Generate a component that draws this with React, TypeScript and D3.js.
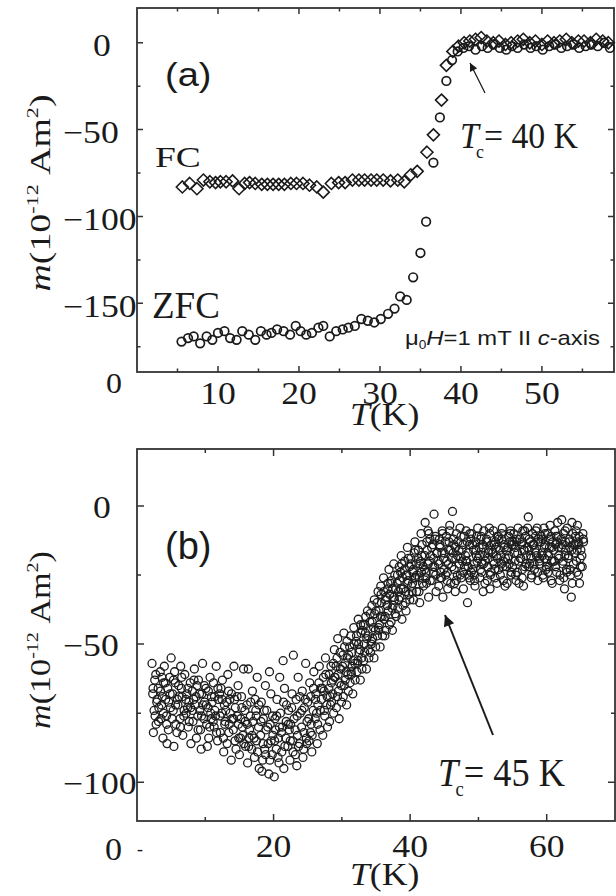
import React from 'react';
import * as d3 from 'd3';

// ---------- Panel (a) data ----------
const fcT = [5.6,6.5,7.4,8.2,9.0,9.7,10.3,11.0,11.8,12.6,13.3,13.9,14.6,15.4,16.1,16.8,17.5,18.2,19.0,19.7,20.5,21.3,22.2,23.0,24.0,24.9,25.7,26.6,27.4,28.1,28.9,29.6,30.4,31.3,32.2,33.0,33.8,34.6,35.8,36.6,37.6,38.2,39.0,39.7,40.4,41.1,41.8,42.5,43.2,44.0,44.7,45.5,46.2,47.0,47.7,48.5,49.2,50.0,50.7,51.5,52.2,53.0,53.7,54.5,55.2,56.0,56.7,57.5,58.2];
const fcM = [-83,-81,-84,-79,-80,-80.5,-80,-80,-79.5,-84,-81,-80.5,-81,-81.5,-81.5,-81.5,-81.5,-81.5,-81,-81,-81,-82,-83,-86,-81,-80.5,-80.5,-79,-79,-79,-79,-79,-79,-79.5,-79,-80,-76,-74,-63,-53,-33,-13,-5,-2,0,1,2,3,1,0,1,-1,0,1,2,0,1,-1,1,0,1,2,0,1,1,0,2,1,0];
const zfcT = [5.5,6.3,7.0,7.8,8.6,9.3,10.0,10.8,11.5,12.3,13.0,13.8,14.6,15.3,16.0,16.6,17.3,18.1,18.9,19.6,20.2,20.9,21.6,22.4,23.0,23.8,24.6,25.4,26.1,26.9,27.7,28.5,29.3,30.1,31.0,31.8,32.5,33.3,34.1,35.0,35.7,36.6,37.4,38.2,38.9,39.6,40.3,41.0,41.8,42.6,43.3,44.0,44.8,45.6,46.3,47.0,47.8,48.6,49.3,50.1,50.9,51.6,52.4,53.1,53.9,54.6,55.4,56.1,56.9,57.7,58.4];
const zfcM = [-172,-170,-169,-173,-169,-171,-167,-166,-170,-171,-166,-168,-171,-166,-168,-167,-165,-166,-168,-163,-166,-168,-167,-164,-163,-169,-166,-165,-164,-163,-159,-160,-161,-159,-156,-153,-146,-148,-135,-121,-103,-69,-43,-22,-10,-5,-3,-2,-4,-2,-3,-1,-3,-4,-2,-3,-1,-3,-2,-4,-2,-1,-3,-2,-1,-3,-2,-1,-2,0,-3];

const aXTicks = [10, 20, 30, 40, 50];
const aYTicks = [0, -50, -100, -150];

// ---------- Panel (b) data : [T, m] ----------
const bPoints: [number, number][] = [
[2.2,-57],[2.3,-68],[2.5,-74],[2.6,-63],[2.8,-79],[2.9,-71],[2.4,-82],
[3.1,-66],[3.2,-73],[3.4,-60],[3.5,-77],[3.7,-69],[3.8,-84],[3.9,-64],[3.6,-72],
[4.0,-58],[4.2,-70],[4.3,-76],[4.5,-66],[4.6,-81],[4.8,-62],[4.9,-73],[4.4,-86],
[5.0,-55],[5.2,-68],[5.3,-74],[5.4,-87],[5.6,-64],[5.7,-79],[5.9,-70],[5.5,-60],
[6.0,-72],[6.1,-65],[6.3,-77],[6.4,-58],[6.6,-69],[6.7,-83],[6.9,-74],[6.5,-66],
[7.0,-61],[7.2,-75],[7.3,-68],[7.5,-80],[7.6,-71],[7.8,-64],[7.9,-86],[7.4,-73],
[8.1,-67],[8.2,-78],[8.4,-59],[8.5,-72],[8.7,-84],[8.8,-65],[8.9,-76],[8.3,-70],
[9.0,-63],[9.2,-74],[9.3,-81],[9.5,-68],[9.6,-57],[9.8,-77],[9.9,-71],[9.4,-88],
[10.1,-66],[10.2,-79],[10.4,-73],[10.5,-84],[10.7,-62],[10.8,-75],[10.9,-69],[10.3,-87],
[11.0,-71],[11.2,-64],[11.3,-80],[11.5,-76],[11.6,-58],[11.8,-85],[11.9,-70],[11.4,-74],
[12.1,-68],[12.2,-82],[12.4,-75],[12.5,-63],[12.7,-89],[12.8,-72],[12.9,-78],[12.3,-66],
[13.0,-74],[13.2,-86],[13.3,-61],[13.5,-79],[13.6,-70],[13.8,-92],[13.9,-77],[13.4,-67],
[14.1,-81],[14.2,-58],[14.4,-73],[14.5,-88],[14.7,-76],[14.8,-65],[14.9,-84],[14.3,-70],
[15.0,-90],[15.2,-77],[15.3,-69],[15.5,-83],[15.6,-59],[15.8,-74],[15.9,-87],[15.4,-80],
[16.1,-72],[16.2,-93],[16.3,-59],[16.5,-81],[16.6,-76],[16.8,-88],[16.9,-67],[16.4,-84],
[17.0,-78],[17.2,-91],[17.3,-70],[17.5,-85],[17.6,-62],[17.8,-80],[17.9,-95],[17.4,-74],
[18.1,-83],[18.2,-71],[18.4,-92],[18.5,-77],[18.7,-88],[18.8,-65],[18.9,-81],[18.3,-96],
[19.0,-74],[19.2,-86],[19.3,-97],[19.5,-79],[19.6,-68],[19.8,-90],[19.9,-83],[19.4,-60],
[20.1,-98],[20.2,-77],[20.4,-88],[20.5,-70],[20.7,-84],[20.8,-93],[20.9,-62],[20.3,-81],
[21.0,-75],[21.2,-89],[21.3,-80],[21.5,-95],[21.6,-66],[21.8,-84],[21.9,-72],[21.4,-56],
[22.1,-87],[22.2,-74],[22.4,-92],[22.5,-79],[22.7,-68],[22.8,-85],[22.9,-54],[22.3,-81],
[23.0,-77],[23.2,-90],[23.3,-70],[23.5,-83],[23.6,-62],[23.8,-86],[23.9,-75],[23.4,-94],
[24.1,-80],[24.2,-67],[24.4,-88],[24.5,-73],[24.7,-57],[24.8,-84],[24.9,-78],[24.3,-91],
[25.0,-71],[25.2,-85],[25.3,-64],[25.5,-79],[25.6,-89],[25.8,-74],[25.9,-60],[25.4,-82],
[26.1,-77],[26.2,-68],[26.4,-86],[26.5,-72],[26.7,-58],[26.8,-81],[26.9,-66],[26.3,-75],
[27.0,-70],[27.2,-83],[27.3,-62],[27.5,-76],[27.6,-55],[27.8,-72],[27.9,-80],[27.4,-67],
[28.1,-66],[28.2,-78],[28.4,-58],[28.5,-71],[28.7,-63],[28.8,-75],[28.9,-52],[28.3,-69],
[29.0,-62],[29.2,-73],[29.3,-55],[29.5,-67],[29.6,-77],[29.8,-59],[29.9,-65],[29.4,-48],
[30.1,-58],[30.2,-69],[30.4,-51],[30.5,-63],[30.7,-72],[30.8,-55],[30.9,-61],[30.3,-46],
[31.0,-54],[31.2,-64],[31.3,-47],[31.5,-58],[31.6,-68],[31.8,-50],[31.9,-57],[31.4,-61],
[32.1,-49],[32.2,-60],[32.4,-41],[32.5,-53],[32.7,-63],[32.8,-46],[32.9,-55],[32.3,-57],
[33.0,-45],[33.2,-56],[33.3,-50],[33.5,-40],[33.6,-59],[33.8,-47],[33.9,-52],[33.4,-43],
[34.1,-42],[34.2,-53],[34.4,-36],[34.5,-48],[34.7,-55],[34.8,-39],[34.9,-45],[34.3,-50],
[35.0,-38],[35.2,-47],[35.3,-31],[35.5,-43],[35.6,-51],[35.8,-35],[35.9,-40],[35.4,-45],[35.7,-29],
[36.1,-26],[36.2,-41],[36.4,-34],[36.5,-45],[36.7,-30],[36.8,-38],[36.9,-23],[36.3,-47],[36.6,-36],
[37.0,-32],[37.2,-42],[37.3,-27],[37.5,-36],[37.6,-21],[37.8,-39],[37.9,-30],[37.4,-45],[37.7,-34],
[38.1,-28],[38.2,-37],[38.4,-22],[38.5,-33],[38.7,-18],[38.8,-41],[38.9,-26],[38.3,-31],[38.6,-24],
[39.0,-30],[39.2,-20],[39.3,-35],[39.5,-25],[39.6,-15],[39.8,-32],[39.9,-22],[39.4,-38],[39.7,-27],
[40.1,-19],[40.2,-29],[40.4,-24],[40.5,-34],[40.7,-13],[40.8,-26],[40.9,-21],[40.3,-31],[40.6,-17],
[41.0,-25],[41.2,-16],[41.3,-31],[41.5,-20],[41.6,-10],[41.8,-28],[41.9,-22],[41.4,-35],[41.7,-18],
[42.1,-23],[42.2,-6],[42.4,-28],[42.5,-16],[42.7,-33],[42.8,-20],[42.9,-12],[42.3,-26],[42.6,-9],
[43.0,-18],[43.2,-27],[43.3,-14],[43.5,-3],[43.6,-22],[43.8,-31],[43.9,-17],[43.4,-24],[43.7,-11],
[44.1,-20],[44.2,-29],[44.4,-15],[44.5,-24],[44.7,-9],[44.8,-33],[44.9,-19],[44.3,-12],[44.6,-26],
[45.0,-17],[45.2,-25],[45.3,-11],[45.5,-30],[45.6,-21],[45.8,-7],[45.9,-16],[45.4,-27],[45.7,-13],
[46.1,-22],[46.2,-2],[46.4,-14],[46.5,-28],[46.7,-19],[46.8,-10],[46.9,-25],[46.3,-17],[46.6,-31],
[47.0,-13],[47.2,-21],[47.3,-8],[47.5,-26],[47.6,-16],[47.8,-30],[47.9,-11],[47.4,-19],[47.7,-24],
[48.1,-18],[48.2,-9],[48.4,-35],[48.5,-22],[48.7,-14],[48.8,-27],[48.9,-12],[48.3,-20],[48.6,-25],
[49.0,-10],[49.2,-23],[49.3,-16],[49.5,-29],[49.6,-13],[49.8,-20],[49.9,-8],[49.4,-25],[49.7,-18],
[50.1,-15],[50.2,-26],[50.4,-11],[50.5,-21],[50.7,-31],[50.8,-9],[50.9,-18],[50.3,-23],[50.6,-14],
[51.0,-20],[51.2,-12],[51.3,-27],[51.5,-16],[51.6,-8],[51.8,-24],[51.9,-14],[51.4,-19],[51.7,-30],
[52.1,-17],[52.2,-9],[52.4,-23],[52.5,-13],[52.7,-28],[52.8,-19],[52.9,-11],[52.3,-21],[52.6,-15],
[53.0,-12],[53.2,-25],[53.3,-18],[53.5,-8],[53.6,-22],[53.8,-15],[53.9,-29],[53.4,-10],[53.7,-20],
[54.1,-16],[54.2,-28],[54.4,-11],[54.5,-21],[54.7,-9],[54.8,-24],[54.9,-14],[54.3,-19],[54.6,-13],
[55.0,-22],[55.2,-10],[55.3,-17],[55.5,-27],[55.6,-13],[55.8,-8],[55.9,-20],[55.4,-15],[55.7,-24],
[56.1,-12],[56.2,-19],[56.4,-26],[56.5,-9],[56.7,-16],[56.8,-22],[56.9,-11],[56.3,-14],[56.6,-29],
[57.0,-18],[57.2,-8],[57.3,-4],[57.5,-21],[57.6,-13],[57.8,-25],[57.9,-10],[57.4,-16],[57.7,-19],
[58.1,-14],[58.2,-23],[58.4,-9],[58.5,-18],[58.7,-27],[58.8,-12],[58.9,-20],[58.3,-16],[58.6,-8],
[59.0,-21],[59.2,-11],[59.3,-17],[59.5,-26],[59.6,-8],[59.8,-14],[59.9,-23],[59.4,-12],[59.7,-19],
[60.1,-10],[60.2,-24],[60.4,-15],[60.5,-7],[60.7,-20],[60.8,-28],[60.9,-13],[60.3,-18],[60.6,-11],
[61.0,-16],[61.2,-9],[61.3,-22],[61.5,-13],[61.6,-6],[61.8,-19],[61.9,-27],[61.4,-11],[61.7,-15],
[62.1,-12],[62.2,-5],[62.4,-20],[62.5,-26],[62.7,-9],[62.8,-16],[62.9,-23],[62.3,-14],[62.6,-30],
[63.0,-8],[63.2,-18],[63.3,-13],[63.5,-25],[63.6,-33],[63.8,-10],[63.9,-21],[63.4,-15],[63.7,-6],
[64.1,-17],[64.2,-11],[64.4,-24],[64.5,-7],[64.7,-14],[64.8,-28],[64.9,-19],[64.3,-9],[64.6,-13],
[65.0,-16],[65.2,-22],[65.3,-10],[65.4,-13]
];

// second sweep of panel (b), denser core
const bPointsExtra: [number, number][] = [
[2.35,-66],[2.65,-76],[2.75,-61],[2.95,-70],
[3.15,-78],[3.45,-67],[3.65,-62],[3.85,-75],
[4.15,-64],[4.35,-79],[4.65,-71],[4.85,-68],
[5.15,-77],[5.35,-63],[5.65,-72],[5.85,-82],
[6.15,-69],[6.35,-80],[6.55,-62],[6.85,-76],
[7.15,-70],[7.45,-66],[7.65,-78],[7.85,-73],
[8.15,-74],[8.35,-63],[8.65,-69],[8.95,-81],
[9.15,-68],[9.45,-76],[9.65,-72],[9.85,-65],
[10.15,-72],[10.45,-67],[10.65,-80],[10.85,-77],
[11.15,-78],[11.35,-69],[11.65,-82],[11.85,-66],
[12.15,-76],[12.45,-70],[12.65,-84],[12.85,-79],
[13.15,-71],[13.45,-82],[13.65,-75],[13.85,-68],
[14.15,-77],[14.35,-85],[14.65,-69],[14.85,-79],
[15.15,-84],[15.35,-73],[15.65,-86],[15.85,-78],
[16.15,-79],[16.35,-87],[16.65,-71],[16.85,-83],
[17.15,-84],[17.45,-76],[17.65,-89],[17.85,-72],
[18.15,-78],[18.45,-86],[18.65,-74],[18.85,-90],
[19.15,-80],[19.45,-92],[19.65,-85],[19.85,-76],
[20.15,-85],[20.45,-76],[20.65,-91],[20.85,-80],
[21.15,-82],[21.45,-71],[21.65,-87],[21.85,-78],
[22.15,-79],[22.45,-85],[22.65,-73],[22.85,-89],
[23.15,-81],[23.45,-76],[23.65,-87],[23.85,-69],
[24.15,-74],[24.45,-82],[24.65,-70],[24.85,-86],
[25.15,-77],[25.45,-69],[25.65,-83],[25.85,-66],
[26.15,-70],[26.45,-79],[26.65,-64],[26.85,-74],
[27.15,-66],[27.45,-74],[27.65,-61],[27.85,-69],
[28.15,-61],[28.35,-72],[28.45,-64],[28.65,-68],[28.75,-57],[28.95,-62],
[29.15,-58],[29.35,-69],[29.45,-61],[29.65,-64],[29.75,-53],[29.95,-71],
[30.15,-54],[30.35,-65],[30.45,-57],[30.65,-60],[30.75,-49],[30.95,-67],
[31.15,-51],[31.35,-60],[31.45,-53],[31.65,-56],[31.75,-44],[31.95,-63],
[32.15,-47],[32.35,-56],[32.45,-50],[32.65,-52],[32.75,-43],[32.95,-59],
[33.15,-43],[33.35,-53],[33.45,-46],[33.65,-48],[33.75,-38],[33.95,-55],
[34.15,-39],[34.35,-49],[34.45,-42],[34.65,-44],[34.75,-34],[34.95,-51],
[35.15,-35],[35.35,-44],[35.45,-38],[35.65,-40],[35.75,-32],[35.95,-47],
[36.15,-31],[36.35,-40],[36.45,-33],[36.65,-36],[36.75,-28],[36.95,-43],
[37.15,-28],[37.35,-37],[37.45,-30],[37.65,-33],[37.75,-25],[37.95,-40],
[38.15,-25],[38.35,-34],[38.45,-27],[38.65,-30],[38.75,-21],[38.95,-36],
[39.15,-23],[39.35,-31],[39.45,-25],[39.65,-28],[39.75,-19],[39.95,-34],
[40.15,-21],[40.35,-28],[40.45,-23],[40.65,-26],[40.75,-16],[40.95,-31],
[41.15,-19],[41.35,-26],[41.45,-21],[41.65,-24],[41.75,-14],[41.95,-29],
[42.15,-18],[42.35,-24],[42.45,-13],[42.65,-21],[42.75,-10],[42.95,-27],
[43.15,-15],[43.35,-22],[43.45,-19],[43.65,-12],[43.75,-25],[43.95,-17],
[44.15,-21],[44.35,-14],[44.45,-26],[44.65,-17],[44.75,-10],[44.95,-23],
[45.15,-13],[45.35,-20],[45.45,-24],[45.65,-16],[45.75,-9],[45.95,-28],
[46.15,-19],[46.35,-12],[46.45,-23],[46.65,-15],[46.75,-27],[46.95,-18],
[47.15,-16],[47.35,-25],[47.45,-11],[47.65,-20],[47.75,-14],[47.95,-22],
[48.15,-20],[48.35,-13],[48.45,-17],[48.65,-26],[48.75,-10],[48.95,-24],
[49.15,-14],[49.35,-21],[49.45,-27],[49.65,-16],[49.75,-11],[49.95,-19],
[50.15,-18],[50.35,-12],[50.45,-24],[50.65,-15],[50.75,-21],[50.95,-28],
[51.15,-13],[51.35,-22],[51.45,-17],[51.65,-10],[51.75,-25],[51.95,-16],
[52.15,-20],[52.35,-14],[52.45,-26],[52.65,-18],[52.75,-11],[52.95,-23],
[53.15,-16],[53.35,-21],[53.45,-12],[53.65,-27],[53.75,-14],[53.95,-19],
[54.15,-22],[54.35,-15],[54.45,-18],[54.65,-10],[54.75,-25],[54.95,-13],
[55.15,-14],[55.35,-20],[55.45,-25],[55.65,-12],[55.75,-17],[55.95,-28],
[56.15,-19],[56.35,-13],[56.45,-23],[56.65,-16],[56.75,-9],[56.95,-21],
[57.15,-15],[57.35,-22],[57.45,-12],[57.65,-18],[57.75,-26],[57.95,-14],
[58.15,-21],[58.35,-11],[58.45,-17],[58.65,-24],[58.75,-13],[58.95,-19],
[59.15,-13],[59.35,-18],[59.45,-25],[59.65,-15],[59.75,-10],[59.95,-22],
[60.15,-17],[60.35,-22],[60.45,-12],[60.65,-27],[60.75,-15],[60.95,-20],
[61.15,-20],[61.35,-14],[61.45,-24],[61.65,-11],[61.75,-18],[61.95,-25],
[62.15,-15],[62.35,-21],[62.45,-10],[62.65,-18],[62.75,-13],[62.95,-24],
[63.15,-19],[63.35,-12],[63.45,-23],[63.65,-16],[63.75,-28],[63.95,-14],
[64.15,-14],[64.35,-20],[64.45,-16],[64.65,-25],[64.75,-11],[64.95,-22],
[65.15,-18],[65.35,-12]
];

const bXTicks = [20, 40, 60];
const bYTicks = [0, -50, -100];

const SERIF = '"Liberation Serif", "Times New Roman", serif';
const SANS = '"Liberation Sans", Arial, sans-serif';
const INK = '#1a1a1a';
const AXIS = '#333';

function SText({ x, y, sx = 1, size, anchor = 'start', family = SERIF, children }: any) {
  return (
    <g transform={`translate(${x},${y}) scale(${sx},1)`}>
      <text x={0} y={0} fontSize={size} fontFamily={family} textAnchor={anchor} fill={INK}>
        {children}
      </text>
    </g>
  );
}

function Frame({ xs, ys, xMajor, xMinor, yMajor, yMinor, maj, min }: any) {
  const [x0, x1] = xs.range();
  const [y0, y1] = ys.range();
  const segs: string[] = [];
  xMajor.forEach((v: number) => {
    const X = xs(v);
    segs.push(`M${X},${y0}v${-maj}`, `M${X},${y1}v${maj}`);
  });
  xMinor.forEach((v: number) => {
    const X = xs(v);
    segs.push(`M${X},${y0}v${-min}`, `M${X},${y1}v${min}`);
  });
  yMajor.forEach((v: number) => {
    const Y = ys(v);
    segs.push(`M${x0},${Y}h${maj}`, `M${x1},${Y}h${-maj}`);
  });
  yMinor.forEach((v: number) => {
    const Y = ys(v);
    segs.push(`M${x0},${Y}h${min}`, `M${x1},${Y}h${-min}`);
  });
  return (
    <g>
      <path d={segs.join('')} stroke={AXIS} strokeWidth={1.5} fill="none" />
      <rect x={x0} y={y1} width={x1 - x0} height={y0 - y1} fill="none" stroke={AXIS} strokeWidth={1.8} />
    </g>
  );
}

function YTitle({ x, y, len }: any) {
  return (
    <text
      transform={`translate(${x},${y}) rotate(-90)`}
      textAnchor="middle"
      fontSize={29}
      fontFamily={SERIF}
      fill={INK}
      textLength={len}
      lengthAdjust="spacingAndGlyphs"
    >
      <tspan fontStyle="italic">m</tspan>
      <tspan>(10</tspan>
      <tspan fontSize={17} dy={-12}>-12</tspan>
      <tspan dy={12}>{'\u00a0Am'}</tspan>
      <tspan fontSize={17} dy={-12}>2</tspan>
      <tspan dy={12}>)</tspan>
    </text>
  );
}

export default function App() {
  const ax = d3.scaleLinear().domain([0, 58.9]).range([137, 614]);
  const ay = d3.scaleLinear().domain([-189.5, 20]).range([372, 8]);
  const bx = d3.scaleLinear().domain([0, 70]).range([137, 615]);
  const by = d3.scaleLinear().domain([-114, 20.6]).range([821, 449]);

  const fc = fcT.map((t, i) => [t, fcM[i]]);
  const zfc = zfcT.map((t, i) => [t, zfcM[i]]);
  const bAll = bPoints.concat(bPointsExtra);
  const diamond = 'M0,-6L6,0L0,6L-6,0Z';

  return (
    <svg width={616} height={896} style={{ position: 'absolute', left: 0, top: 0, background: '#fff' }}>
      <defs>
        <marker id="ahA" viewBox="0 0 10 10" refX={10} refY={5} markerWidth={11} markerHeight={8} markerUnits="userSpaceOnUse" orient="auto">
          <path d="M0,0L10,5L0,10Z" fill={INK} />
        </marker>
        <marker id="ahB" viewBox="0 0 10 10" refX={10} refY={5} markerWidth={16} markerHeight={11} markerUnits="userSpaceOnUse" orient="auto">
          <path d="M0,0L10,5L0,10Z" fill={INK} />
        </marker>
      </defs>
      <rect x={0} y={0} width={616} height={896} fill="#fff" />

      {/* ---------------- Panel (a) ---------------- */}
      <Frame
        xs={ax} ys={ay}
        xMajor={aXTicks} xMinor={d3.range(5, 59, 10)}
        yMajor={aYTicks} yMinor={d3.range(-175, 20, 50)}
        maj={6} min={3.5}
      />
      {aYTicks.map((v) => (
        <SText key={v} x={v === 0 ? 93 : 63} y={ay(v) + 13.5} sx={1.15} size={31}>
          {v === 0 ? '0' : `\u2212${Math.abs(v)}`}
        </SText>
      ))}
      <SText x={106} y={393} sx={1.1} size={29}>0</SText>
      {aXTicks.map((v) => (
        <SText key={v} x={ax(v)} y={404} sx={1.15} size={31} anchor="middle">{v}</SText>
      ))}
      <SText x={350} y={425} sx={1.15} size={31}>
        <tspan fontStyle="italic">T</tspan>(K)
      </SText>
      <YTitle x={50} y={193} len={197} />

      {zfc.map((d, i) => (
        <circle key={'z' + i} cx={ax(d[0])} cy={ay(d[1])} r={4.3} fill="none" stroke={INK} strokeWidth={1.7} />
      ))}
      {fc.map((d, i) => (
        <path key={'f' + i} d={diamond} transform={`translate(${ax(d[0])},${ay(d[1])})`} fill="none" stroke={INK} strokeWidth={1.6} />
      ))}

      <SText x={165} y={86} sx={1.15} size={33} family={SANS}>(a)</SText>
      <SText x={155} y={167} sx={1.25} size={30}>FC</SText>
      <SText x={152} y={318} sx={1.0} size={37}>ZFC</SText>
      <text x={460} y={148} fontSize={36} fontFamily={SERIF} fill={INK} textLength={118} lengthAdjust="spacingAndGlyphs">
        <tspan fontStyle="italic">T</tspan>
        <tspan fontSize={19} dx={-3} dy={10}>c</tspan>
        <tspan dy={-10}>= 40 K</tspan>
      </text>
      <line x1={485} y1={93} x2={470} y2={63} stroke={INK} strokeWidth={1.3} markerEnd="url(#ahA)" />
      <text x={405} y={345} fontSize={21} fontFamily={SANS} fill={INK} textLength={195} lengthAdjust="spacingAndGlyphs">
        <tspan>μ</tspan>
        <tspan fontSize={12} dy={4}>0</tspan>
        <tspan dy={-4} fontStyle="italic">H</tspan>
        <tspan>=1 mT II </tspan>
        <tspan fontStyle="italic">c</tspan>
        <tspan>-axis</tspan>
      </text>

      {/* ---------------- Panel (b) ---------------- */}
      <Frame
        xs={bx} ys={by}
        xMajor={bXTicks} xMinor={d3.range(10, 70, 20)}
        yMajor={bYTicks} yMinor={d3.range(-75, 20, 50)}
        maj={7} min={4}
      />
      {bAll.map((d, i) => (
        <circle key={'b' + i} cx={bx(d[0])} cy={by(d[1])} r={4.0} fill="none" stroke="#1c1c1c" strokeWidth={1.3} />
      ))}
      {bYTicks.map((v) => (
        <SText key={v} x={v === 0 ? 93 : 63} y={by(v) + 12} sx={1.15} size={31}>
          {v === 0 ? '0' : `\u2212${Math.abs(v)}`}
        </SText>
      ))}
      <SText x={105} y={860} sx={1.1} size={31}>0</SText>
      <SText x={137} y={855} sx={1} size={18}>-</SText>
      {bXTicks.map((v) => (
        <SText key={v} x={bx(v)} y={857} sx={1.15} size={31} anchor="middle">{v}</SText>
      ))}
      <SText x={350} y={885} sx={1.15} size={31}>
        <tspan fontStyle="italic">T</tspan>(K)
      </SText>
      <YTitle x={50} y={640} len={178} />

      <SText x={165} y={559} sx={1.0} size={38} family={SANS}>(b)</SText>
      <line x1={493} y1={735} x2={445} y2={615} stroke={INK} strokeWidth={2} markerEnd="url(#ahB)" />
      <text x={438} y={786} fontSize={41} fontFamily={SERIF} fill={INK} textLength={127} lengthAdjust="spacingAndGlyphs">
        <tspan fontStyle="italic">T</tspan>
        <tspan fontSize={21} dx={-3} dy={10}>c</tspan>
        <tspan dy={-10}>= 45 K</tspan>
      </text>
    </svg>
  );
}
